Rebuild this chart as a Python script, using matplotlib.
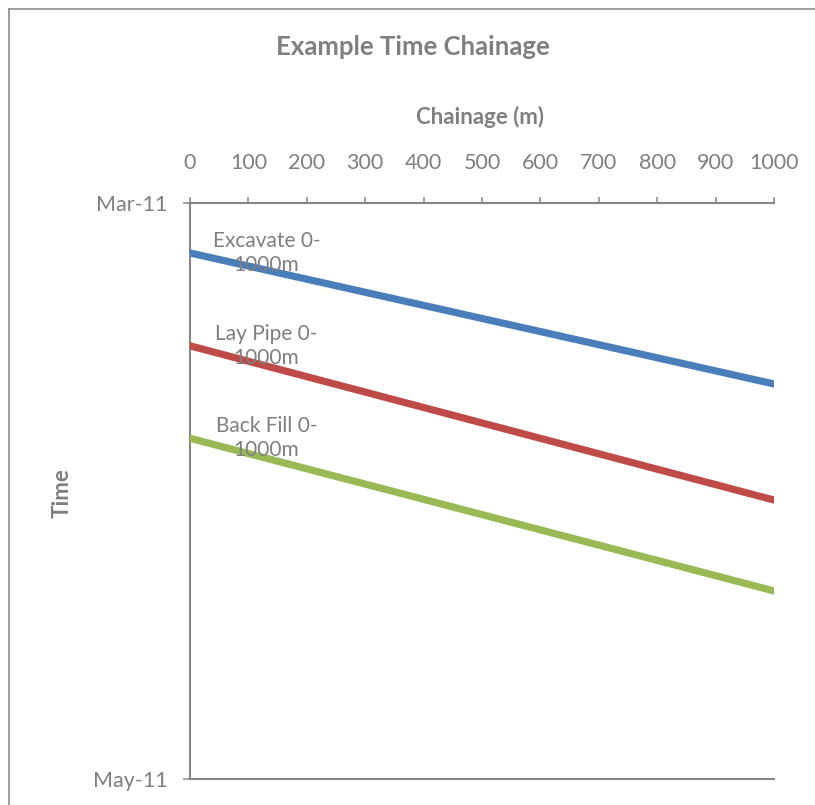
import matplotlib
matplotlib.use("Agg")
import matplotlib.pyplot as plt
import matplotlib.dates as mdates
import pandas as pd

# data: chainage (m) vs time, one straight line per activity
tasks = ["Excavate 0-\n1000m", "Lay Pipe 0-\n1000m", "Back Fill 0-\n1000m"]
chainage = [0, 1000]
starts = ["2011-03-06 07:00", "2011-03-16 03:00", "2011-03-25 22:00"]
ends = ["2011-03-20 04:00", "2011-04-01 11:00", "2011-04-11 02:00"]
colors = ["#4A7EBB", "#BE4B48", "#98B954"]

x_ticks = list(range(0, 1001, 100))
y_min, y_max = "2011-03-01", "2011-05-01"

grey = "#7F7F7F"
axis_grey = "#868686"
plt.rcParams["font.family"] = ["Lato", "DejaVu Sans"]

fig = plt.figure(figsize=(8.15, 8.05), dpi=100)
W, H = 815, 805

# chart area border: a background axes whose top and left spines form the frame
bg = fig.add_axes([8.5 / W, -0.2, 1.0, 1.2 - 8.5 / H], zorder=-1)
bg.set_xticks([])
bg.set_yticks([])
bg.patch.set_visible(False)
bg.spines["right"].set_visible(False)
bg.spines["bottom"].set_visible(False)
for side in ["top", "left"]:
    bg.spines[side].set_color("#8C8C8C")
    bg.spines[side].set_linewidth(1.2)

ax = fig.add_axes([190 / W, 26 / H, 584 / W, 576 / H])

for name, s, e, c in zip(tasks, starts, ends, colors):
    t = [pd.Timestamp(s), pd.Timestamp(e)]
    ax.plot(chainage, t, color=c, linewidth=5.2, solid_capstyle="round", zorder=3)
    ax.annotate(name, xy=(chainage[0], t[0]), xytext=(55, 0),
                textcoords="offset points", ha="center", va="center",
                multialignment="center", fontsize=15, color=grey,
                linespacing=1.25, zorder=5)

ax.set_xlim(0, 1000)
ax.set_ylim(pd.Timestamp(y_max), pd.Timestamp(y_min))
ax.xaxis.tick_top()
ax.xaxis.set_label_position("top")
ax.set_xticks(x_ticks)
ax.set_yticks([pd.Timestamp(y_min), pd.Timestamp(y_max)])
ax.yaxis.set_major_formatter(mdates.DateFormatter("%b-%y"))

ax.tick_params(axis="x", direction="out", length=4.5, width=1.1,
               color=axis_grey, labelcolor=grey, labelsize=15.5, pad=17)
ax.tick_params(axis="y", direction="out", length=5, width=1.1,
               color=axis_grey, labelcolor=grey, labelsize=15.5, pad=11)

for side in ["top", "bottom", "left"]:
    ax.spines[side].set_color(axis_grey)
    ax.spines[side].set_linewidth(1.5)
ax.spines["right"].set_visible(False)

fig.text(413 / W, 1 - 47 / H, "Example Time Chainage", ha="center", va="center",
         fontsize=18.5, fontweight="bold", color=grey)
fig.text(480 / W, 1 - 117 / H, "Chainage (m)", ha="center", va="center",
         fontsize=16, fontweight="bold", color=grey)
fig.text(62 / W, 1 - 493 / H, "Time", ha="center", va="center", rotation=90,
         fontsize=16, fontweight="bold", color=grey)

fig.savefig("out.png", dpi=100)
